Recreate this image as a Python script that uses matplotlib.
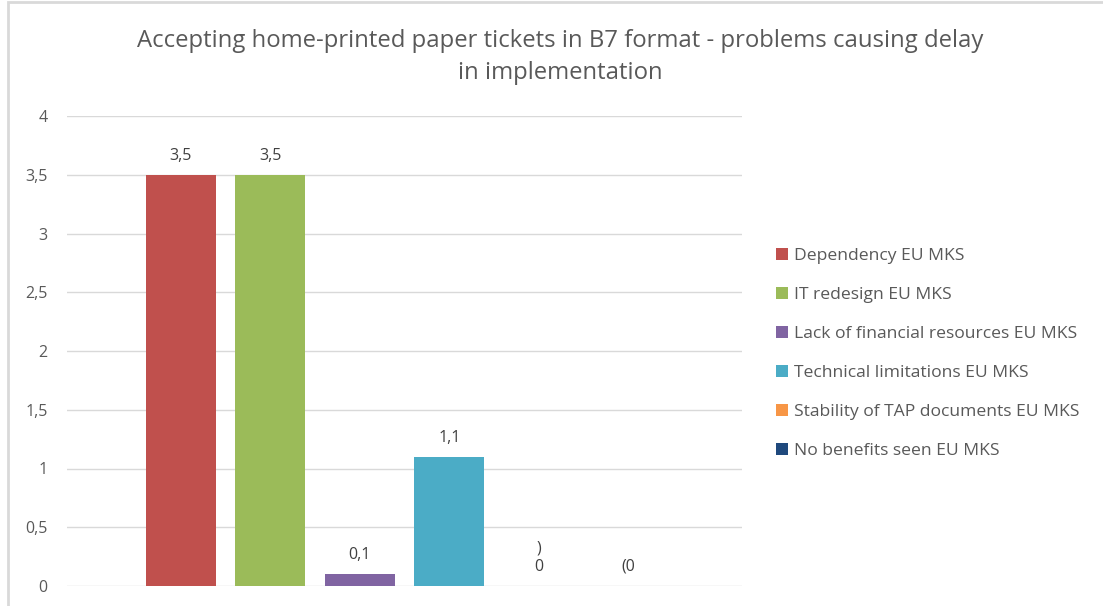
"""
B7 home-printed tickets - delay causes bar chart
"""
import matplotlib
matplotlib.use('Agg')
import matplotlib.pyplot as plt
from matplotlib.patches import Rectangle

plt.rcParams['font.family'] = ['Open Sans', 'DejaVu Sans']

# data
series = ['Dependency EU MKS', 'IT redesign EU MKS',
          'Lack of financial resources EU MKS', 'Technical limitations EU MKS',
          'Stability of TAP documents EU MKS', 'No benefits seen EU MKS']
values = [3.5, 3.5, 0.1, 1.1, 0, 0]
value_labels = ['3,5', '3,5', '0,1', '1,1', ')\n0', '(0']
colors = ['#C0504D', '#9BBB59', '#8064A2', '#4BACC6', '#F79646', '#1F497D']
yticks = [0, 0.5, 1, 1.5, 2, 2.5, 3, 3.5, 4]
ytick_labels = ['0', '0,5', '1', '1,5', '2', '2,5', '3', '3,5', '4']

title = ('Accepting home-printed paper tickets in B7 format - problems causing delay\n'
         'in implementation')

text_col = '#595959'

fig = plt.figure(figsize=(11.03, 6.06), dpi=100)
ax = fig.add_axes([67 / 1103, 1 - 586 / 606, (742 - 67) / 1103, (586 - 116) / 606])

# chart border (cropped on right/bottom)
fig.patches.append(Rectangle((8 / 1103, -0.1), 1.2, 1 - 2 / 606 + 0.1,
                             transform=fig.transFigure, fill=False,
                             edgecolor='#D9D9D9', linewidth=2))

xs = list(range(len(values)))
bars = ax.bar(xs, values, width=0.78, color=colors, zorder=3)
for b, lab in zip(bars, series):
    b.set_label(lab)

for x, v, lab in zip(xs, values, value_labels):
    ax.annotate(lab, (x, v), xytext=(0, 8), textcoords='offset points',
                ha='center', va='bottom', fontsize=11.5, color='#404040',
                linespacing=1.2)

ax.set_xlim(-1.27, 6.27)
ax.set_ylim(0, 4)
ax.set_yticks(yticks)
ax.set_yticklabels(ytick_labels)
ax.tick_params(axis='y', length=0, pad=14, labelsize=11.5, labelcolor=text_col)
ax.set_xticks([])
ax.grid(axis='y', color='#D9D9D9', linewidth=1, zorder=0)
for s in ax.spines.values():
    s.set_visible(False)

fig.text(560 / 1103, 1 - 57 / 606, title, ha='center', va='center',
         fontsize=17.2, color=text_col, linespacing=1.4)

ax.legend(loc='upper left', bbox_to_anchor=(776 / 1103, 1 - 248 / 606),
          bbox_transform=fig.transFigure, frameon=False, fontsize=12.6,
          handlelength=0.7, handleheight=0.7, handletextpad=0.3,
          labelspacing=1.3, labelcolor=text_col, borderpad=0, borderaxespad=0)

fig.savefig('out.png', dpi=100)
